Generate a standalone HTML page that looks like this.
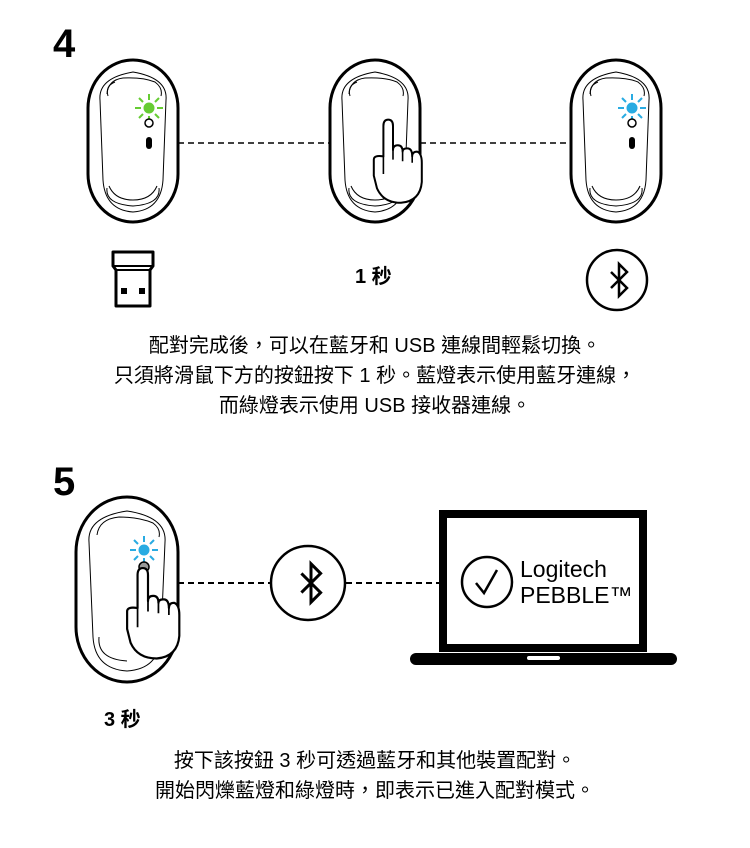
<!DOCTYPE html>
<html><head><meta charset="utf-8"><style>
html,body{margin:0;padding:0;background:#fff;}
svg{display:block;}
text{font-family:"Liberation Sans","Noto Sans CJK TC",sans-serif;fill:#000;}
</style></head><body>
<svg width="750" height="848" viewBox="0 0 750 848" xmlns="http://www.w3.org/2000/svg">
<defs>
<g id="mouse">
  <rect x="-45" y="0" width="90" height="162" rx="45" ry="48" fill="#fff" stroke="#000" stroke-width="3"/>
  <path d="M-33 40 Q-35 18 0 12 Q35 18 33 40 L30 120 Q28 150 0 152 Q-28 150 -30 120 Z" fill="none" stroke="#000" stroke-width="1"/>
  <path d="M-26 34 Q-25 20 -10 18 Q10 17 22 22 Q30 28 28 36" fill="none" stroke="#000" stroke-width="1"/>
  <path d="M-25 36 Q-28 26 -18 22" fill="none" stroke="#000" stroke-width="1"/>
  <path d="M-26 128 Q-28 144 0 146 Q28 144 26 128" fill="none" stroke="#000" stroke-width="1"/>
  <path d="M-24 126 Q-18 140 0 140 Q18 140 24 126" fill="none" stroke="#000" stroke-width="1"/>
</g>
<g id="hand">
  <path d="M-12 0 Q-12 -8 -6 -8 Q0 -8 0 0 L0 30 Q0 24 6 24 Q12 24 12 32 Q12 28 18 28 Q24 28 24 38 Q24 32 30 32 Q36 34 36 46 L36 70 Q34 94 10 96 Q-12 96 -20 78 L-24 62 L-24 42 Q-24 36 -12 38 Z" fill="#fff" stroke="#000" stroke-width="2.5" stroke-linejoin="round"/>
  <path d="M-12 38 L-12 60 M0 30 L0 42 M12 32 L12 44 M24 38 L24 46" stroke="#000" stroke-width="2" fill="none"/>
</g>
<g id="burst">
  <circle cx="0" cy="0" r="5"/>
  <g stroke-width="2">
  <line x1="0" y1="-8" x2="0" y2="-14"/><line x1="0" y1="8" x2="0" y2="14"/>
  <line x1="-8" y1="0" x2="-14" y2="0"/><line x1="8" y1="0" x2="14" y2="0"/>
  <line x1="6" y1="-6" x2="10" y2="-10"/><line x1="-6" y1="-6" x2="-10" y2="-10"/>
  <line x1="6" y1="6" x2="10" y2="10"/><line x1="-6" y1="6" x2="-10" y2="10"/>
  </g>
</g>
<g id="bt"><path d="M-8 -8 L8 8 L0 16 L0 -16 L8 -8 L-8 8" fill="none" stroke="#000" stroke-width="2.5" stroke-linejoin="miter"/></g>
</defs>

<text x="53" y="57" font-size="40" font-weight="bold">4</text>
<line x1="178" y1="143" x2="330" y2="143" stroke="#000" stroke-width="1.5" stroke-dasharray="6 4"/>
<line x1="420" y1="143" x2="572" y2="143" stroke="#000" stroke-width="1.5" stroke-dasharray="6 4"/>

<g transform="translate(133,60)"><use href="#mouse"/>
  <g transform="translate(16,48)" fill="#6c3" stroke="#6c3"><use href="#burst"/></g>
  <circle cx="16" cy="63" r="4" fill="#fff" stroke="#000" stroke-width="1.5"/>
  <rect x="13" y="77" width="6" height="12" rx="3" fill="#000"/>
</g>
<g transform="translate(375,60)"><use href="#mouse"/>
  <g transform="translate(18,66) scale(0.8)"><use href="#hand"/></g>
</g>
<g transform="translate(616,60)"><use href="#mouse"/>
  <g transform="translate(16,48)" fill="#29abe2" stroke="#29abe2"><use href="#burst"/></g>
  <circle cx="16" cy="63" r="4" fill="#fff" stroke="#000" stroke-width="1.5"/>
  <rect x="13" y="77" width="6" height="12" rx="3" fill="#000"/>
</g>

<path d="M113 252 H153 V266 L150 270 V306 H116 V270 L113 266 Z" fill="#fff" stroke="#000" stroke-width="3" stroke-linejoin="round"/>
<line x1="113" y1="266" x2="153" y2="266" stroke="#000" stroke-width="2"/>
<line x1="116" y1="270" x2="150" y2="270" stroke="#000" stroke-width="2"/>
<rect x="121" y="288" width="6" height="6" fill="#000"/><rect x="139" y="288" width="6" height="6" fill="#000"/>
<text x="355" y="283" font-size="20" font-weight="bold">1 秒</text>
<circle cx="617" cy="280" r="30" fill="#fff" stroke="#000" stroke-width="2.5"/>
<g transform="translate(619,280)"><use href="#bt"/></g>

<g font-size="20" text-anchor="middle">
<text x="375" y="352">配對完成後，可以在藍牙和 USB 連線間輕鬆切換。</text>
<text x="375" y="382">只須將滑鼠下方的按鈕按下 1 秒。藍燈表示使用藍牙連線，</text>
<text x="375" y="412">而綠燈表示使用 USB 接收器連線。</text>
</g>

<text x="53" y="495" font-size="40" font-weight="bold">5</text>
<line x1="178" y1="583" x2="270" y2="583" stroke="#000" stroke-width="2" stroke-dasharray="6 4"/>
<line x1="346" y1="583" x2="440" y2="583" stroke="#000" stroke-width="2" stroke-dasharray="6 4"/>
<g transform="translate(127,497)">
  <rect x="-51" y="0" width="102" height="185" rx="51" ry="55" fill="#fff" stroke="#000" stroke-width="3"/>
  <path d="M-38 45 Q-40 20 0 14 Q40 20 38 45 L34 140 Q32 172 0 174 Q-32 172 -34 140 Z" fill="none" stroke="#000" stroke-width="1"/>
  <path d="M-30 38 Q-28 22 -8 20 Q12 20 26 26 Q34 32 32 40" fill="none" stroke="#000" stroke-width="1"/>
  <path d="M-28 140 Q-30 162 0 164" fill="none" stroke="#000" stroke-width="1"/>
  <g transform="translate(17,53)" fill="#29abe2" stroke="#29abe2"><use href="#burst"/></g>
  <circle cx="17" cy="70" r="5" fill="#999" stroke="#000" stroke-width="1.5"/>
  <g transform="translate(21,78) scale(0.87)"><use href="#hand"/></g>
</g>
<circle cx="308" cy="583" r="37" fill="#fff" stroke="#000" stroke-width="2.5"/>
<g transform="translate(311,583) scale(1.2)"><use href="#bt"/></g>

<rect x="443" y="514" width="200" height="134" fill="#fff" stroke="#000" stroke-width="8"/>
<rect x="410" y="653" width="267" height="12" rx="6" fill="#000"/>
<rect x="527" y="656" width="33" height="4" rx="2" fill="#fff"/>
<circle cx="487" cy="582" r="25" fill="none" stroke="#000" stroke-width="2.5"/>
<path d="M476 583 L484 593 L497 570" fill="none" stroke="#000" stroke-width="2.5"/>
<text x="520" y="577" font-size="23">Logitech</text>
<text x="520" y="603" font-size="23">PEBBLE™</text>

<text x="104" y="726" font-size="20" font-weight="bold">3 秒</text>
<g font-size="20" text-anchor="middle">
<text x="375" y="767">按下該按鈕 3 秒可透過藍牙和其他裝置配對。</text>
<text x="375" y="797">開始閃爍藍燈和綠燈時，即表示已進入配對模式。</text>
</g>
</svg>
</body></html>
